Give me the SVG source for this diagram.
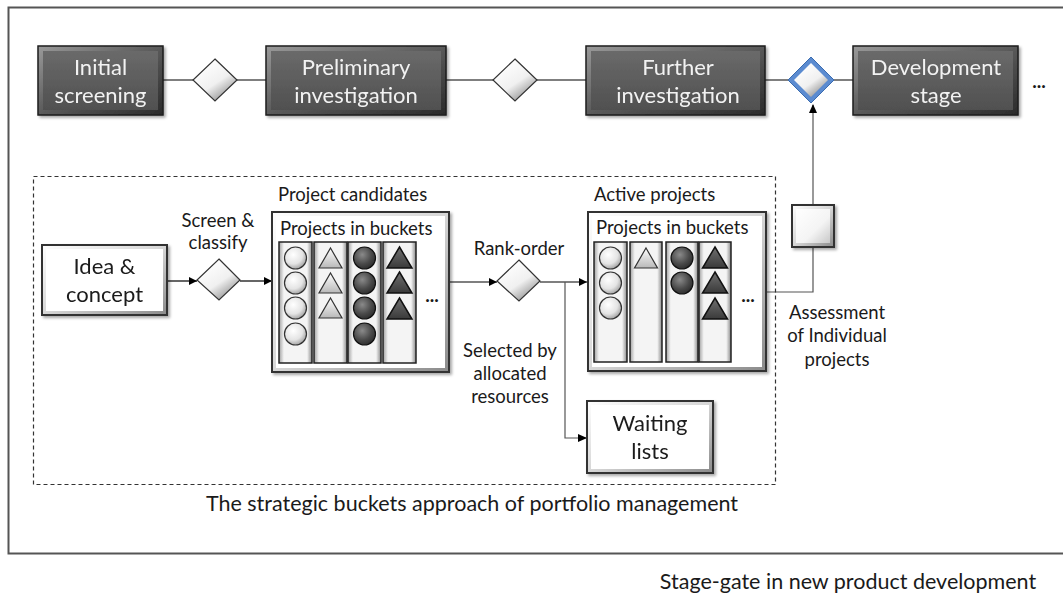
<svg xmlns="http://www.w3.org/2000/svg" width="1063" height="598" viewBox="0 0 1063 598">
  <defs>
    <linearGradient id="darkFace" x1="0" y1="0" x2="0" y2="1">
      <stop offset="0" stop-color="#6a6a6a"/>
      <stop offset="1" stop-color="#505050"/>
    </linearGradient>
    <linearGradient id="darkRim" x1="0" y1="0" x2="1" y2="1">
      <stop offset="0" stop-color="#9a9a9a"/>
      <stop offset="0.5" stop-color="#5a5a5a"/>
      <stop offset="1" stop-color="#2a2a2a"/>
    </linearGradient>
    <linearGradient id="lightRim" x1="0" y1="0" x2="1" y2="1">
      <stop offset="0" stop-color="#ffffff"/>
      <stop offset="0.5" stop-color="#d6d6d6"/>
      <stop offset="1" stop-color="#8a8a8a"/>
    </linearGradient>
    <linearGradient id="diamondFill" x1="0.2" y1="0.1" x2="0.8" y2="0.95">
      <stop offset="0" stop-color="#ffffff"/>
      <stop offset="0.55" stop-color="#f0f0f0"/>
      <stop offset="1" stop-color="#8c8c8c"/>
    </linearGradient>
    <linearGradient id="squareFace" x1="0" y1="0" x2="1" y2="1">
      <stop offset="0" stop-color="#ffffff"/>
      <stop offset="0.6" stop-color="#f4f4f4"/>
      <stop offset="1" stop-color="#c8c8c8"/>
    </linearGradient>
    <radialGradient id="ballLight" cx="0.4" cy="0.35" r="0.7">
      <stop offset="0" stop-color="#ffffff"/>
      <stop offset="0.6" stop-color="#e4e4e4"/>
      <stop offset="1" stop-color="#9a9a9a"/>
    </radialGradient>
    <radialGradient id="ballDark" cx="0.4" cy="0.35" r="0.7">
      <stop offset="0" stop-color="#8a8a8a"/>
      <stop offset="0.6" stop-color="#4a4a4a"/>
      <stop offset="1" stop-color="#2a2a2a"/>
    </radialGradient>
    <linearGradient id="triLight" x1="0" y1="0" x2="0" y2="1">
      <stop offset="0" stop-color="#ffffff"/>
      <stop offset="1" stop-color="#b8b8b8"/>
    </linearGradient>
    <linearGradient id="triDark" x1="0" y1="0" x2="0" y2="1">
      <stop offset="0" stop-color="#707070"/>
      <stop offset="1" stop-color="#3a3a3a"/>
    </linearGradient>
    <linearGradient id="colRim" x1="0" y1="0" x2="1" y2="0">
      <stop offset="0" stop-color="#a0a0a0"/>
      <stop offset="0.15" stop-color="#f4f4f4"/>
      <stop offset="0.85" stop-color="#f4f4f4"/>
      <stop offset="1" stop-color="#8a8a8a"/>
    </linearGradient>
    <filter id="shadow" x="-10%" y="-10%" width="130%" height="130%">
      <feGaussianBlur in="SourceAlpha" stdDeviation="1.5"/>
      <feOffset dx="2" dy="2" result="b"/>
      <feComponentTransfer><feFuncA type="linear" slope="0.35"/></feComponentTransfer>
      <feMerge><feMergeNode/><feMergeNode in="SourceGraphic"/></feMerge>
    </filter>
    <marker id="arrow" viewBox="0 0 10 10" refX="10" refY="5" markerWidth="8" markerHeight="8" markerUnits="userSpaceOnUse" orient="auto">
      <path d="M0,0 L10,5 L0,10 z" fill="#000"/>
    </marker>
  </defs>
  <style>
    text { font-family: Lato, "Open Sans", "Liberation Sans", sans-serif; fill: #1a1a1a; }
    .stage-t { fill: #f2f2f2; font-size: 22px; text-anchor: middle; }
    .box-t { font-size: 22px; text-anchor: middle; }
    .lbl { font-size: 18.5px; text-anchor: middle; }
    .lbl-l { font-size: 18.5px; }
    .cap { font-size: 21.5px; text-anchor: middle; }
    .rim-dark { fill: url(#darkRim); stroke: #1e1e1e; stroke-width: 1.5; }
    .face-dark { fill: url(#darkFace); }
    .rim-light { fill: url(#lightRim); stroke: #333; stroke-width: 2; }
    .face-light { fill: #ffffff; }
    .diamond { fill: url(#diamondFill); stroke: #333; stroke-width: 1.2; }
    .col { fill: url(#colRim); stroke: #222; stroke-width: 1.5; }
    .bl { fill: url(#ballLight); stroke: #333; stroke-width: 1.2; }
    .bd { fill: url(#ballDark); stroke: #111; stroke-width: 1.2; }
    .tl { fill: url(#triLight); stroke: #333; stroke-width: 1.2; }
    .td { fill: url(#triDark); stroke: #111; stroke-width: 1.5; }
    .gray-line { stroke: #7f7f7f; stroke-width: 2; fill: none; }
    .conn { stroke: #000; stroke-width: 1.2; fill: none; }
    .conn-g { stroke: #555; stroke-width: 1.2; fill: none; }
    .dots { font-size: 19px; text-anchor: middle; font-weight: bold; }
  </style>

  <!-- outer frame -->
  <rect x="8.5" y="7.5" width="1062" height="546" fill="none" stroke="#555" stroke-width="2"/>

  <!-- connectors -->
  <g id="connectors">
    <line class="gray-line" x1="163" y1="80" x2="853" y2="80"/>
    <line class="conn" x1="167" y1="281" x2="197" y2="281" marker-end="url(#arrow)"/>
    <line class="conn" x1="240" y1="281" x2="272" y2="281" marker-end="url(#arrow)"/>
    <line class="conn" x1="449" y1="282" x2="497" y2="282" marker-end="url(#arrow)"/>
    <line class="conn" x1="540" y1="282" x2="587" y2="282" marker-end="url(#arrow)"/>
    <polyline class="conn-g" points="565,282 565,438 586,438"/>
    <path d="M578,434 L587,438 L578,442 z" fill="#000"/>
    <polyline class="conn-g" points="766,292 813,292 813,247"/>
    <line class="conn-g" x1="813" y1="205" x2="813" y2="105"/>
    <path d="M809,113 L813,104 L817,113 z" fill="#000"/>
  </g>

  <!-- dashed portfolio frame -->
  <rect x="33.5" y="176.5" width="742" height="308" fill="none" stroke="#333" stroke-width="1.2" stroke-dasharray="4,3"/>

  <!-- stage boxes -->
  <g id="stage-initial" filter="url(#shadow)">
    <rect class="rim-dark" x="38" y="46" width="125" height="69"/>
    <rect class="face-dark" x="43" y="51" width="115" height="59"/>
    <text class="stage-t" x="100.5" y="75">Initial</text>
    <text class="stage-t" x="100.5" y="103">screening</text>
  </g>
  <g id="stage-preliminary" filter="url(#shadow)">
    <rect class="rim-dark" x="266" y="46" width="180" height="69"/>
    <rect class="face-dark" x="271" y="51" width="170" height="59"/>
    <text class="stage-t" x="356" y="75">Preliminary</text>
    <text class="stage-t" x="356" y="103">investigation</text>
  </g>
  <g id="stage-further" filter="url(#shadow)">
    <rect class="rim-dark" x="586" y="46" width="179" height="69"/>
    <rect class="face-dark" x="591" y="51" width="169" height="59"/>
    <text class="stage-t" x="678" y="75">Further</text>
    <text class="stage-t" x="678" y="103">investigation</text>
  </g>
  <g id="stage-development" filter="url(#shadow)">
    <rect class="rim-dark" x="853" y="46" width="165" height="69"/>
    <rect class="face-dark" x="858" y="51" width="155" height="59"/>
    <text class="stage-t" x="936" y="75">Development</text>
    <text class="stage-t" x="936" y="103">stage</text>
  </g>
  <text class="dots" x="1039" y="88">...</text>

  <!-- gates -->
  <g id="gate-1"><polygon class="diamond" points="215,59 237,80 215,101 193,80"/></g>
  <g id="gate-2"><polygon class="diamond" points="515,59 537,80 515,101 493,80"/></g>
  <g id="gate-3">
    <polygon points="811,57 834,80 811,103 788,80" fill="#5b8bd0" stroke="#3a6cb0" stroke-width="1"/>
    <polygon points="811,63 828,80 811,97 794,80" fill="url(#diamondFill)"/>
  </g>

  <!-- idea & concept -->
  <g id="idea" filter="url(#shadow)">
    <rect class="rim-light" x="42" y="245" width="125" height="70"/>
    <rect class="face-light" x="46" y="249" width="117" height="62"/>
    <text class="box-t" x="104.5" y="274">Idea &amp;</text>
    <text class="box-t" x="104.5" y="302">concept</text>
  </g>

  <!-- screen & classify gate -->
  <g id="screen-gate">
    <polygon class="diamond" points="219,259 240,280 219,300 197,280"/>
    <text class="lbl" x="218" y="227">Screen &amp;</text>
    <text class="lbl" x="218" y="249">classify</text>
  </g>

  <!-- project candidates -->
  <g id="candidates">
    <text class="lbl-l" x="278" y="201">Project candidates</text>
    <g filter="url(#shadow)">
      <rect class="rim-light" x="272" y="212" width="177" height="160"/>
      <rect class="face-light" x="276" y="216" width="169" height="152"/>
    </g>
    <text class="lbl-l" x="280" y="235">Projects in buckets</text>
    <rect class="col" x="279" y="242" width="33" height="121"/>
    <rect class="col" x="314" y="242" width="33" height="121"/>
    <rect class="col" x="348" y="242" width="33" height="121"/>
    <rect class="col" x="383" y="242" width="33" height="121"/>
    <circle class="bl" cx="295.5" cy="258" r="11"/>
    <circle class="bl" cx="295.5" cy="283" r="11"/>
    <circle class="bl" cx="295.5" cy="308" r="11"/>
    <circle class="bl" cx="295.5" cy="334" r="11"/>
    <polygon class="tl" points="330.5,248 342,268 319,268"/>
    <polygon class="tl" points="330.5,273 342,293 319,293"/>
    <polygon class="tl" points="330.5,298 342,318 319,318"/>
    <circle class="bd" cx="364.5" cy="258" r="11"/>
    <circle class="bd" cx="364.5" cy="283" r="11"/>
    <circle class="bd" cx="364.5" cy="308" r="11"/>
    <circle class="bd" cx="364.5" cy="334" r="11"/>
    <polygon class="td" points="399.5,247 412,268 387,268"/>
    <polygon class="td" points="399.5,272 412,293 387,293"/>
    <polygon class="td" points="399.5,298 412,319 387,319"/>
    <text class="dots" x="432" y="302">...</text>
  </g>

  <!-- rank-order gate -->
  <g id="rank-gate">
    <polygon class="diamond" points="519,260 540,281 519,301 497,281"/>
    <text class="lbl" x="519" y="255">Rank-order</text>
  </g>

  <!-- selection label -->
  <g id="selected-label">
    <text class="lbl" x="510" y="357">Selected by</text>
    <text class="lbl" x="510" y="380">allocated</text>
    <text class="lbl" x="510" y="403">resources</text>
  </g>

  <!-- active projects -->
  <g id="active">
    <text class="lbl-l" x="594" y="201">Active projects</text>
    <g filter="url(#shadow)">
      <rect class="rim-light" x="588" y="212" width="178" height="159"/>
      <rect class="face-light" x="592" y="216" width="170" height="151"/>
    </g>
    <text class="lbl-l" x="596" y="234">Projects in buckets</text>
    <rect class="col" x="594" y="242" width="33" height="120"/>
    <rect class="col" x="630" y="242" width="32" height="120"/>
    <rect class="col" x="666" y="242" width="32" height="120"/>
    <rect class="col" x="699" y="242" width="32" height="120"/>
    <circle class="bl" cx="610.5" cy="258" r="11"/>
    <circle class="bl" cx="610.5" cy="283" r="11"/>
    <circle class="bl" cx="610.5" cy="308" r="11"/>
    <polygon class="tl" points="646,248 657.5,268 634.5,268"/>
    <circle class="bd" cx="682" cy="258" r="11"/>
    <circle class="bd" cx="682" cy="283" r="11"/>
    <polygon class="td" points="715,247 727.5,268 702.5,268"/>
    <polygon class="td" points="715,272 727.5,293 702.5,293"/>
    <polygon class="td" points="715,298 727.5,319 702.5,319"/>
    <text class="dots" x="748" y="302">...</text>
  </g>

  <!-- waiting lists -->
  <g id="waiting" filter="url(#shadow)">
    <rect class="rim-light" x="587" y="401" width="126" height="72"/>
    <rect class="face-light" x="591" y="405" width="118" height="64"/>
    <text class="box-t" x="650" y="431">Waiting</text>
    <text class="box-t" x="650" y="459">lists</text>
  </g>

  <!-- individual assessment -->
  <g id="assessment">
    <g filter="url(#shadow)">
      <rect class="rim-light" x="792" y="205" width="42" height="42"/>
      <rect x="796" y="209" width="34" height="34" fill="url(#squareFace)"/>
    </g>
    <text class="lbl" x="837" y="319">Assessment</text>
    <text class="lbl" x="837" y="342">of Individual</text>
    <text class="lbl" x="837" y="366">projects</text>
  </g>

  <!-- captions -->
  <text class="cap" x="472" y="511">The strategic buckets approach of portfolio management</text>
  <text class="cap" x="848" y="589">Stage-gate in new product development</text>
</svg>
